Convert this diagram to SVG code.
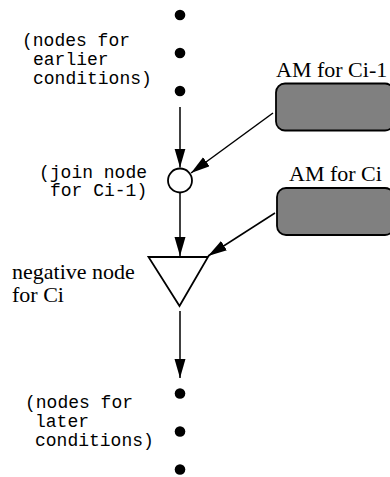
<svg xmlns="http://www.w3.org/2000/svg" width="390" height="477" viewBox="0 0 390 477">
<style>
.mono{font-family:"Liberation Mono","Courier New",monospace;font-size:18px;fill:#000}
.serif{font-family:"Liberation Serif","Times New Roman",serif;font-size:22px;fill:#000}
.dot{fill:#000}
.edge{stroke:#000;stroke-width:1.5;fill:none;marker-end:url(#ah)}
.am{fill:#808080;stroke:#000;stroke-width:1.8}
</style>
<defs>
<marker id="ah" markerUnits="userSpaceOnUse" markerWidth="20" markerHeight="12" refX="19" refY="5.5" orient="auto">
<path d="M0,0 L19,5.5 L0,11 z" fill="#000"/>
</marker>
</defs>
<rect width="390" height="477" fill="#fff"/>
<g id="earlier-nodes">
<circle class="dot" cx="180" cy="15" r="5.3"/>
<circle class="dot" cx="180" cy="53" r="5.3"/>
<circle class="dot" cx="180" cy="91" r="5.3"/>
<text class="mono" x="22" y="46">(nodes for</text>
<text class="mono" x="33" y="65">earlier</text>
<text class="mono" x="33" y="84">conditions)</text>
</g>
<g id="join-node">
<circle cx="180" cy="180.5" r="12" fill="#fff" stroke="#000" stroke-width="1.8"/>
<text class="mono" x="39" y="178">(join node</text>
<text class="mono" x="50" y="196">for Ci-1)</text>
</g>
<g id="am-ci-1">
<rect class="am" x="276" y="83.5" width="118" height="47" rx="9"/>
<text class="serif" x="276" y="77">AM for Ci-1</text>
</g>
<g id="am-ci">
<rect class="am" x="277" y="188" width="117" height="47" rx="9"/>
<text class="serif" x="289" y="181">AM for Ci</text>
</g>
<g id="negative-node">
<polygon points="148.5,257 208,257 179.5,306" fill="#fff" stroke="#000" stroke-width="1.8" stroke-linejoin="miter"/>
<text class="serif" x="12" y="279">negative node</text>
<text class="serif" x="12" y="302">for Ci</text>
</g>
<g id="later-nodes">
<circle class="dot" cx="180" cy="393.5" r="5.3"/>
<circle class="dot" cx="180" cy="431.5" r="5.3"/>
<circle class="dot" cx="180" cy="469.5" r="5.3"/>
<text class="mono" x="25" y="408">(nodes for</text>
<text class="mono" x="35" y="427">later</text>
<text class="mono" x="35" y="446">conditions)</text>
</g>
<g id="connectors">
<line class="edge" x1="180" y1="107" x2="180" y2="167.5"/>
<line class="edge" x1="180" y1="193" x2="180" y2="256"/>
<line class="edge" x1="180" y1="311" x2="180" y2="378"/>
<line class="edge" x1="273" y1="113" x2="191" y2="173"/>
<line class="edge" x1="275" y1="213" x2="208" y2="256"/>
</g>
</svg>
